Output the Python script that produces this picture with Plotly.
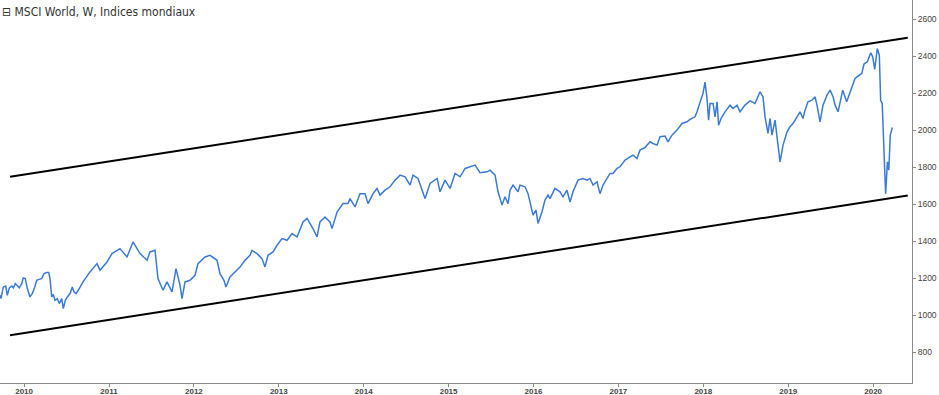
import plotly.graph_objects as go

# Weekly closes of the MSCI World index (decimal year, index level)
t = [2009.716, 2009.728, 2009.755, 2009.783, 2009.802, 2009.826, 2009.854, 2009.873, 2009.896, 2009.920,
     2009.943, 2009.972, 2009.990, 2010.014, 2010.038, 2010.069, 2010.096, 2010.120, 2010.148, 2010.175,
     2010.207, 2010.234, 2010.266, 2010.290, 2010.305, 2010.325, 2010.344, 2010.364, 2010.391, 2010.415,
     2010.443, 2010.462, 2010.485, 2010.509, 2010.541, 2010.568, 2010.588, 2010.611, 2010.638, 2010.694,
     2010.776, 2010.859, 2010.894, 2010.976, 2011.035, 2011.129, 2011.212, 2011.283, 2011.365, 2011.448,
     2011.483, 2011.542, 2011.577, 2011.636, 2011.683, 2011.742, 2011.789, 2011.836, 2011.860, 2011.895,
     2011.954, 2012.013, 2012.048, 2012.131, 2012.190, 2012.272, 2012.307, 2012.354, 2012.378, 2012.425,
     2012.484, 2012.543, 2012.602, 2012.661, 2012.684, 2012.743, 2012.802, 2012.837, 2012.873, 2012.932,
     2012.979, 2013.038, 2013.097, 2013.156, 2013.215, 2013.250, 2013.285, 2013.332, 2013.403, 2013.450,
     2013.485, 2013.544, 2013.603, 2013.627, 2013.686, 2013.756, 2013.815, 2013.839, 2013.898, 2013.956,
     2014.015, 2014.051, 2014.110, 2014.157, 2014.192, 2014.251, 2014.310, 2014.369, 2014.428, 2014.487,
     2014.546, 2014.581, 2014.640, 2014.723, 2014.781, 2014.864, 2014.899, 2014.958, 2015.017, 2015.076,
     2015.135, 2015.194, 2015.252, 2015.311, 2015.370, 2015.452, 2015.488, 2015.547, 2015.582, 2015.629,
     2015.664, 2015.700, 2015.724, 2015.759, 2015.818, 2015.841, 2015.900, 2015.935, 2015.959, 2015.994,
     2016.029, 2016.053, 2016.100, 2016.135, 2016.171, 2016.194, 2016.253, 2016.312, 2016.347, 2016.394,
     2016.430, 2016.465, 2016.524, 2016.583, 2016.630, 2016.665, 2016.701, 2016.748, 2016.783, 2016.819,
     2016.866, 2016.901, 2016.936, 2016.984, 2017.019, 2017.078, 2017.137, 2017.172, 2017.219, 2017.254,
     2017.313, 2017.372, 2017.407, 2017.455, 2017.490, 2017.549, 2017.584, 2017.631, 2017.690, 2017.749,
     2017.808, 2017.843, 2017.902, 2017.926, 2017.961, 2017.996, 2018.020, 2018.044, 2018.062, 2018.079,
     2018.115, 2018.138, 2018.162, 2018.180, 2018.209, 2018.256, 2018.315, 2018.350, 2018.397, 2018.432,
     2018.491, 2018.550, 2018.609, 2018.645, 2018.668, 2018.703, 2018.727, 2018.762, 2018.786, 2018.809,
     2018.845, 2018.868, 2018.904, 2018.939, 2018.986, 2019.021, 2019.057, 2019.104, 2019.139, 2019.174,
     2019.198, 2019.233, 2019.280, 2019.316, 2019.339, 2019.375, 2019.410, 2019.457, 2019.493, 2019.528,
     2019.552, 2019.587, 2019.642, 2019.689, 2019.748, 2019.787, 2019.822, 2019.866, 2019.893, 2019.932,
     2019.972, 2019.995, 2020.019, 2020.049, 2020.073, 2020.089, 2020.107, 2020.147, 2020.169, 2020.185,
     2020.202, 2020.227]

close = [1108, 1090, 1153, 1158, 1108, 1148, 1158, 1148, 1171, 1158,
         1148, 1171, 1202, 1198, 1144, 1099, 1117, 1144, 1189, 1194,
         1198, 1225, 1231, 1231, 1198, 1099, 1112, 1081, 1090, 1063,
         1090, 1036, 1081, 1099, 1117, 1153, 1126, 1117, 1135, 1180,
         1234, 1279, 1243, 1288, 1333, 1360, 1315, 1396, 1333, 1297,
         1342, 1351, 1198, 1135, 1180, 1126, 1252, 1162, 1090, 1180,
         1189, 1216, 1279, 1315, 1324, 1297, 1225, 1189, 1153, 1207,
         1234, 1260, 1297, 1324, 1351, 1333, 1306, 1261, 1324, 1342,
         1378, 1414, 1405, 1441, 1423, 1459, 1504, 1523, 1468, 1423,
         1504, 1531, 1504, 1468, 1558, 1603, 1603, 1630, 1585, 1657,
         1657, 1603, 1657, 1685, 1649, 1676, 1694, 1730, 1757, 1748,
         1703, 1757, 1739, 1630, 1712, 1739, 1667, 1730, 1685, 1766,
         1748, 1793, 1802, 1811, 1770, 1775, 1784, 1757, 1667, 1595,
         1640, 1603, 1676, 1703, 1667, 1703, 1694, 1657, 1612, 1541,
         1568, 1496, 1559, 1622, 1649, 1630, 1685, 1667, 1640, 1676,
         1612, 1667, 1730, 1739, 1730, 1739, 1703, 1721, 1657, 1703,
         1739, 1766, 1766, 1793, 1802, 1838, 1856, 1865, 1847, 1892,
         1906, 1937, 1928, 1919, 1964, 1968, 1937, 1973, 2000, 2036,
         2045, 2058, 2072, 2099, 2150, 2198, 2260, 2170, 2054, 2144,
         2144, 2072, 2153, 2027, 2063, 2099, 2135, 2117, 2135, 2099,
         2135, 2158, 2144, 2180, 2207, 2180, 2072, 1982, 2063, 1973,
         2054, 1964, 1829, 1919, 1991, 2018, 2036, 2072, 2099, 2063,
         2108, 2153, 2162, 2180, 2135, 2045, 2135, 2189, 2216, 2180,
         2135, 2099, 2216, 2153, 2225, 2279, 2292, 2306, 2357, 2369,
         2418, 2396, 2328, 2441, 2405, 2160, 2145, 1657, 1829, 1784,
         1973, 2014]

# Trend channel drawn on the chart (start / end)
channel_t = [2009.834, 2020.408]
channel_upper = [1748, 2499]
channel_lower = [892, 1647]

years = [2010, 2011, 2012, 2013, 2014, 2015, 2016, 2017, 2018, 2019, 2020]
year_labels = [str(y) for y in years]
price_ticks = [800, 1000, 1200, 1400, 1600, 1800, 2000, 2200, 2400, 2600]
price_labels = [str(p) for p in price_ticks]

title_text = "⊟ MSCI World, W, Indices mondiaux"

fig = go.Figure()
fig.add_trace(go.Scatter(x=channel_t, y=channel_upper, mode="lines",
                         line=dict(color="#000000", width=2), hoverinfo="skip"))
fig.add_trace(go.Scatter(x=channel_t, y=channel_lower, mode="lines",
                         line=dict(color="#000000", width=2), hoverinfo="skip"))
fig.add_trace(go.Scatter(x=t, y=close, mode="lines",
                         line=dict(color="#3a7ad9", width=1.5)))

fig.update_layout(
    width=939, height=395,
    margin=dict(l=0, r=27, t=0, b=12),
    paper_bgcolor="white", plot_bgcolor="white",
    showlegend=False,
    xaxis=dict(range=[2009.716, 2020.458], tickvals=years, ticktext=year_labels,
               showgrid=False, zeroline=False, showline=True, linecolor="#8a8a8a", linewidth=1,
               ticks="outside", ticklen=3, tickcolor="#8a8a8a", ticklabelstandoff=-3,
               tickfont=dict(family="Liberation Sans Narrow, Liberation Sans, Arial", size=8, color="#444444",
                             weight="bold"),
               automargin=False),
    yaxis=dict(range=[634, 2703], side="right", tickvals=price_ticks, ticktext=price_labels,
               showgrid=False, zeroline=False, showline=True, linecolor="#8a8a8a", linewidth=1,
               ticks="outside", ticklen=3, tickcolor="#8a8a8a",
               tickfont=dict(family="Liberation Sans, Arial", size=8.5, color="#444444"),
               automargin=False),
    annotations=[dict(text=title_text, xref="paper", yref="paper", x=0.0, y=1.0,
                      xanchor="left", yanchor="top", yshift=-3, showarrow=False,
                      font=dict(family="DejaVu Sans Condensed, DejaVu Sans", size=12, color="#333333"))],
)

fig.write_html("out.html", config={"displayModeBar": False},
               post_script="document.body.style.margin='0';document.body.style.overflow='hidden';")
